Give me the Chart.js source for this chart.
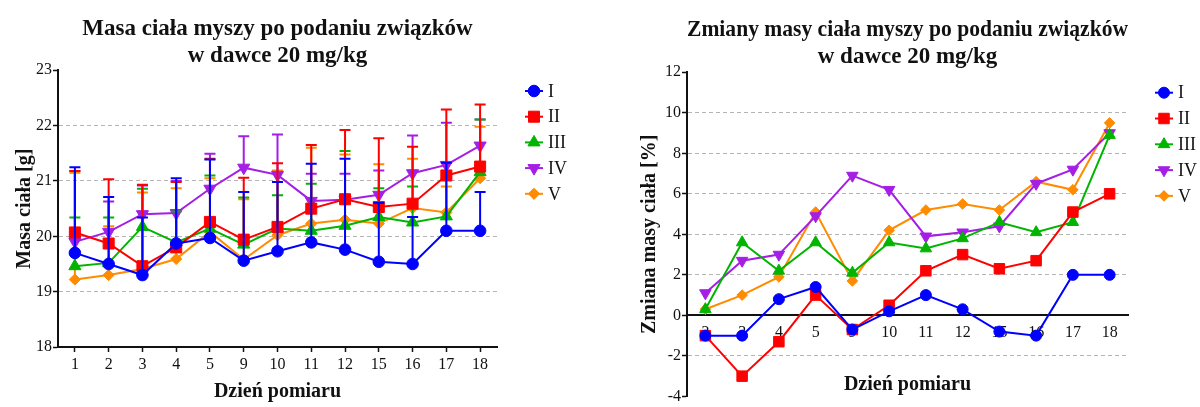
<!DOCTYPE html>
<html lang="pl">
<head>
<meta charset="utf-8">
<script src="https://cdn.jsdelivr.net/npm/chart.js@4.4.1/dist/chart.umd.min.js"></script>
<style>
  html, body { margin: 0; padding: 0; background: #fff; }
  #wrap { position: relative; width: 1200px; height: 407px; overflow: hidden; }
  .panel { position: absolute; top: 0; width: 600px; height: 407px; }
</style>
</head>
<body>
<div id="wrap">
  <div class="panel" style="left:0"><canvas id="masa" width="600" height="407"></canvas></div>
  <div class="panel" style="left:600px"><canvas id="zmiana" width="600" height="407"></canvas></div>
</div>
<script>
// dni pomiaru
const dniMasa = ["1", "2", "3", "4", "5", "9", "10", "11", "12", "15", "16", "17", "18"];
const dniZmiana = ["2", "3", "4", "5", "9", "10", "11", "12", "15", "16", "17", "18"];

const grupy = ["I", "II", "III", "IV", "V"];
const kolory = ["#0000ff", "#ff0000", "#00b400", "#a51ee6", "#ff8c00"];
const ksztalty = ["circle", "rect", "triangle", "triangle", "rectRot"];
const obroty = [0, 0, 0, 180, 0];

// masa ciała [g] - średnie
const masaI   = [19.70, 19.50, 19.30, 19.87, 19.97, 19.56, 19.73, 19.89, 19.76, 19.54, 19.50, 20.10, 20.10];
const masaII  = [20.07, 19.87, 19.46, 19.80, 20.26, 19.94, 20.17, 20.50, 20.67, 20.53, 20.59, 21.10, 21.26];
const masaIII = [19.46, 19.52, 20.17, 19.89, 20.14, 19.85, 20.14, 20.10, 20.19, 20.35, 20.25, 20.36, 21.16];
const masaIV  = [19.90, 20.08, 20.40, 20.42, 20.86, 21.24, 21.11, 20.64, 20.66, 20.75, 21.14, 21.29, 21.64];
const masaV   = [19.22, 19.30, 19.41, 19.59, 20.08, 19.58, 20.02, 20.23, 20.30, 20.23, 20.51, 20.43, 21.05];

// odchylenia standardowe
const sdI   = [1.55, 1.21, 1.04, 1.18, 1.42, 1.24, 1.25, 1.42, 1.64, 1.06, 0.85, 1.23, 0.70];
const sdII  = [1.11, 1.16, 1.47, 1.18, 1.14, 1.12, 1.15, 1.15, 1.25, 1.24, 1.03, 1.19, 1.12];
const sdIII = [0.88, 0.82, 0.69, 0.56, 0.96, 0.85, 0.60, 0.85, 1.35, 0.52, 0.65, 0.69, 0.95];
const sdIV  = [1.28, 0.55, 0.52, 0.58, 0.63, 0.57, 0.73, 0.49, 0.47, 0.44, 0.68, 0.76, 0.47];
const sdV   = [1.93, 0.88, 1.38, 1.28, 0.97, 1.09, 1.17, 1.37, 1.18, 1.07, 0.89, 0.47, 0.93];

// zmiana masy ciała [%]
const zmianaI   = [-1.0, -1.0, 0.8, 1.4, -0.7, 0.2, 1.0, 0.3, -0.8, -1.0, 2.0, 2.0];
const zmianaII  = [-1.0, -3.0, -1.3, 1.0, -0.7, 0.5, 2.2, 3.0, 2.3, 2.7, 5.1, 6.0];
const zmianaIII = [0.3, 3.6, 2.2, 3.6, 2.1, 3.6, 3.3, 3.8, 4.6, 4.1, 4.6, 8.9];
const zmianaIV  = [1.1, 2.7, 3.0, 4.9, 6.9, 6.2, 3.9, 4.1, 4.4, 6.5, 7.2, 9.0];
const zmianaV   = [0.3, 1.0, 1.9, 5.1, 1.7, 4.2, 5.2, 5.5, 5.2, 6.6, 6.2, 9.5];

const czcionka = "'Liberation Serif', 'DejaVu Serif', serif";
const wielkosci = [5.8, 7.8, 7, 7, 5.6];

function zbiory(serie, odchylenia, skala) {
  return serie.map((dane, i) => ({
    label: grupy[i],
    data: dane,
    sd: odchylenia ? odchylenia[i] : null,
    borderColor: kolory[i],
    backgroundColor: kolory[i],
    pointBackgroundColor: kolory[i],
    pointBorderColor: kolory[i],
    pointStyle: ksztalty[i],
    rotation: obroty[i],
    pointRadius: wielkosci[i] * skala,
    pointHoverRadius: wielkosci[i] * skala,
    pointBorderWidth: 1,
    borderWidth: 2,
    tension: 0
  }));
}

// słupki błędów (tylko w górę)
const slupki = {
  id: "slupki",
  afterDatasetDraw(chart, args) {
    const ds = chart.data.datasets[args.index];
    if (!ds.sd) return;
    const ctx = chart.ctx;
    const y = chart.scales.y;
    ctx.save();
    ctx.strokeStyle = ds.borderColor;
    ctx.lineWidth = 2;
    args.meta.data.forEach((pt, i) => {
      const gora = y.getPixelForValue(ds.data[i] + ds.sd[i]);
      ctx.beginPath();
      ctx.moveTo(pt.x, pt.y);
      ctx.lineTo(pt.x, gora);
      ctx.moveTo(pt.x - 5.5, gora);
      ctx.lineTo(pt.x + 5.5, gora);
      ctx.stroke();
    });
    ctx.restore();
  }
};

// legenda z prawej strony
const legenda = {
  id: "legenda",
  afterDraw(chart, args, opts) {
    const ctx = chart.ctx;
    const x = chart.chartArea.right + opts.dx;
    chart.data.datasets.forEach((ds, i) => {
      const y = opts.top + i * opts.krok;
      ctx.save();
      ctx.strokeStyle = ds.borderColor;
      ctx.fillStyle = ds.borderColor;
      ctx.lineWidth = 2;
      ctx.beginPath();
      ctx.moveTo(x - 9, y);
      ctx.lineTo(x + 9, y);
      ctx.stroke();
      ctx.lineWidth = 1;
      Chart.helpers.drawPoint(ctx, {
        pointStyle: ds.pointStyle,
        rotation: ds.rotation,
        radius: ds.pointRadius,
        borderWidth: 1
      }, x, y);
      ctx.fillStyle = "#111";
      ctx.font = "18px " + czcionka;
      ctx.textBaseline = "middle";
      ctx.textAlign = "left";
      ctx.fillText(ds.label, x + 14, y + 1);
      ctx.restore();
    });
  }
};

const siatka = "#b4b4b4";

new Chart(document.getElementById("masa"), {
  type: "line",
  data: {
    labels: dniMasa,
    datasets: zbiory([masaI, masaII, masaIII, masaIV, masaV], [sdI, sdII, sdIII, sdIV, sdV], 1)
  },
  plugins: [slupki, legenda],
  options: {
    responsive: false,
    animation: false,
    events: [],
    layout: { padding: { left: 0, right: 103, top: 0, bottom: 0 } },
    plugins: {
      legend: { display: false },
      tooltip: { enabled: false },
      title: {
        display: true,
        fullSize: false,
        text: ["Masa ciała myszy po podaniu związków", "w dawce 20 mg/kg"],
        color: "#111",
        font: { family: czcionka, size: 23, weight: "bold", lineHeight: 1.18 },
        padding: { top: 15, bottom: 1 }
      },
      legenda: { dx: 37, top: 91, krok: 25.7 }
    },
    scales: {
      x: {
        offset: true,
        afterFit(s) { s.height = 60; },
        grid: { drawOnChartArea: false, drawTicks: true, tickLength: 5, tickColor: "#111", tickWidth: 1.5, offset: false },
        border: { color: "#111", width: 2 },
        ticks: { color: "#111", padding: 3, maxRotation: 0, font: { family: czcionka, size: 16 } },
        title: { display: true, text: "Dzień pomiaru", color: "#111", font: { family: czcionka, size: 20, weight: "bold" }, padding: { top: 0, bottom: 3 } }
      },
      y: {
        min: 18,
        max: 23,
        afterFit(s) { s.width = 58; },
        ticks: { stepSize: 1, color: "#111", padding: 1, font: { family: czcionka, size: 16 } },
        grid: {
          color: c => (c.tick.value === 18 || c.tick.value === 23) ? "rgba(0,0,0,0)" : siatka,
          lineWidth: 1,
          tickLength: 5,
          tickColor: "#111",
          tickWidth: 1.5
        },
        border: { color: "#111", width: 2, dash: [4, 3] },
        title: { display: true, text: "Masa ciała [g]", color: "#111", font: { family: czcionka, size: 20, weight: "bold" }, padding: { top: 13, bottom: 0 } }
      }
    }
  }
});

new Chart(document.getElementById("zmiana"), {
  type: "line",
  data: {
    labels: dniZmiana,
    datasets: zbiory([zmianaI, zmianaII, zmianaIII, zmianaIV, zmianaV], null, 0.95)
  },
  plugins: [legenda],
  options: {
    responsive: false,
    animation: false,
    events: [],
    layout: { padding: { left: 0, right: 72, top: 0, bottom: 1 } },
    plugins: {
      legend: { display: false },
      tooltip: { enabled: false },
      title: {
        display: true,
        fullSize: false,
        text: ["Zmiany masy ciała myszy po podaniu związków", "w dawce 20 mg/kg"],
        color: "#111",
        font: { family: czcionka, size: 23, weight: "bold", lineHeight: 1.18 },
        padding: { top: 16, bottom: 2 }
      },
      legenda: { dx: 36, top: 92.7, krok: 25.8 }
    },
    scales: {
      x: {
        offset: true,
        position: { y: 0 },
        afterFit(s) { s.height = 81; },
        grid: { drawOnChartArea: false, drawTicks: false },
        border: { color: "#111", width: 2 },
        ticks: { color: "#111", padding: 8, maxRotation: 0, font: { family: czcionka, size: 16 } },
        title: { display: true, text: "Dzień pomiaru", color: "#111", font: { family: czcionka, size: 20, weight: "bold" }, padding: { top: 0, bottom: 0 } }
      },
      y: {
        min: -4,
        max: 12,
        afterFit(s) { s.width = 87; },
        ticks: { stepSize: 2, color: "#111", padding: 1, font: { family: czcionka, size: 16 } },
        grid: {
          color: c => (c.tick.value === -4 || c.tick.value === 0 || c.tick.value === 12) ? "rgba(0,0,0,0)" : siatka,
          lineWidth: 1,
          tickLength: 5,
          tickColor: "#111",
          tickWidth: 1.5
        },
        border: { color: "#111", width: 2, dash: [4, 3] },
        title: { display: true, text: "Zmiana masy ciała [%]", color: "#111", font: { family: czcionka, size: 20, weight: "bold" }, padding: { top: 38, bottom: 0 } }
      }
    }
  }
});
</script>
</body>
</html>
